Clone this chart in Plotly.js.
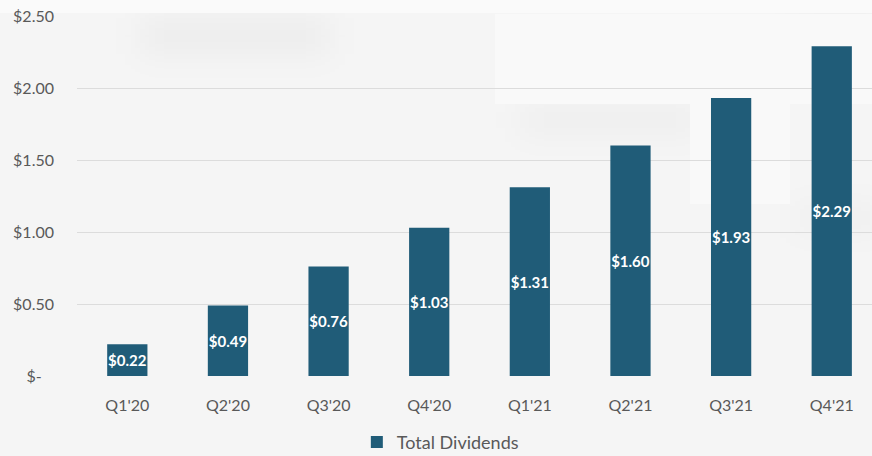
<!DOCTYPE html>
<html>
<head>
<meta charset="utf-8">
<script src="https://cdn.plot.ly/plotly-3.0.1.min.js"></script>
<style>
  html, body { margin: 0; padding: 0; }
  body {
    width: 872px; height: 456px; overflow: hidden; position: relative;
    background: #f5f5f5;
  }
  .panel { position: absolute; background: #f9f9f9; }
  .shade { position: absolute; filter: blur(16px); background: rgba(0,0,0,0.035); }
  #chart { position: absolute; left: 0; top: 0; width: 872px; height: 456px; }
</style>
</head>
<body>
<!-- soft backdrop panels -->
<div class="shade" style="left:140px; top:18px; width:190px; height:36px;"></div>
<div class="shade" style="left:790px; top:18px; width:100px; height:36px;"></div>
<div class="shade" style="left:520px; top:108px; width:180px; height:24px;"></div>
<div class="shade" style="left:795px; top:208px; width:90px; height:20px;"></div>
<div class="panel" style="left:0; top:0; width:872px; height:13px; background:#fafafa;"></div>
<div class="panel" style="left:495px; top:14px; width:377px; height:90px;"></div>
<div class="panel" style="left:690px; top:104px; width:100px; height:100px;"></div>
<div id="chart"></div>
<script>
// Quarterly total dividends per share
const quarters = ["Q1'20", "Q2'20", "Q3'20", "Q4'20", "Q1'21", "Q2'21", "Q3'21", "Q4'21"];
const dividends = [0.22, 0.49, 0.76, 1.03, 1.31, 1.60, 1.93, 2.29];
const yTickVals = [0, 0.5, 1.0, 1.5, 2.0, 2.5];
const yTickText = ['$-\u00a0\u00a0\u00a0', '$0.50', '$1.00', '$1.50', '$2.00', '$2.50'];

const barColor = '#205c78';
const textColor = '#595959';
const fontFamily = 'Lato, "Open Sans", sans-serif';

const trace = {
  type: 'bar',
  name: 'Total Dividends',
  x: quarters,
  y: dividends,
  width: 0.4,
  marker: { color: barColor },
  text: dividends.map(v => '$' + v.toFixed(2)),
  textposition: 'inside',
  insidetextanchor: 'middle',
  textangle: 0,
  constraintext: 'none',
  textfont: { family: fontFamily, size: 15, color: '#ffffff', weight: 'bold' },
  hoverinfo: 'x+y'
};

const layout = {
  width: 872,
  height: 456,
  margin: { l: 77, r: 0, t: 16, b: 80, autoexpand: false },
  paper_bgcolor: 'rgba(0,0,0,0)',
  plot_bgcolor: 'rgba(0,0,0,0)',
  font: { family: fontFamily, size: 16, color: textColor },
  showlegend: true,
  legend: {
    orientation: 'h',
    x: 0.352,
    xanchor: 'left',
    y: -0.133,
    yanchor: 'top',
    font: { family: fontFamily, size: 18, color: textColor },
    bgcolor: 'rgba(0,0,0,0)'
  },
  xaxis: {
    type: 'category',
    range: [-0.5, 7.4],
    showgrid: false,
    zeroline: false,
    showline: false,
    ticks: '',
    automargin: false,
    ticklabelstandoff: 18,
    tickfont: { family: fontFamily, size: 16, color: textColor }
  },
  yaxis: {
    range: [0, 2.5],
    tickvals: yTickVals,
    ticktext: yTickText,
    showgrid: true,
    gridcolor: '#dcdcdc',
    gridwidth: 1,
    zeroline: false,
    showline: false,
    ticks: '',
    automargin: false,
    ticklabelstandoff: 22,
    tickfont: { family: fontFamily, size: 16, color: textColor }
  },
  bargap: 0.6
};

Plotly.newPlot('chart', [trace], layout, { displayModeBar: false, staticPlot: true });
</script>
</body>
</html>
